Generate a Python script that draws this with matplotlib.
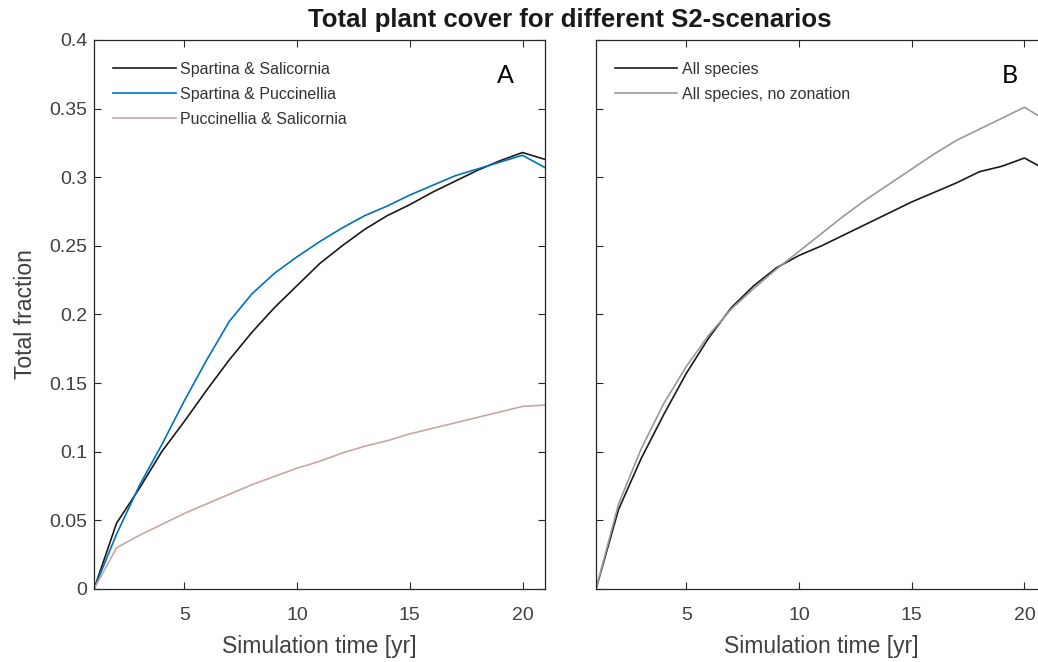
import matplotlib.pyplot as plt

plt.rcParams['font.family'] = ['Liberation Sans', 'DejaVu Sans']

years = list(range(1, 22))

spar_sali = [0, 0.048, 0.073, 0.100, 0.122, 0.145, 0.167, 0.187, 0.205, 0.221, 0.237,
             0.250, 0.262, 0.272, 0.280, 0.289, 0.297, 0.305, 0.312, 0.318, 0.313]
spar_pucc = [0, 0.040, 0.075, 0.105, 0.137, 0.167, 0.195, 0.215, 0.230, 0.242, 0.253,
             0.263, 0.272, 0.279, 0.287, 0.294, 0.301, 0.306, 0.311, 0.316, 0.307]
pucc_sali = [0, 0.030, 0.039, 0.047, 0.055, 0.062, 0.069, 0.076, 0.082, 0.088, 0.093,
             0.099, 0.104, 0.108, 0.113, 0.117, 0.121, 0.125, 0.129, 0.133, 0.134]

all_species = [0, 0.058, 0.095, 0.127, 0.157, 0.183, 0.205, 0.221, 0.234, 0.243, 0.250,
               0.258, 0.266, 0.274, 0.282, 0.289, 0.296, 0.304, 0.308, 0.314, 0.305]
no_zonation = [0, 0.062, 0.102, 0.135, 0.162, 0.185, 0.204, 0.219, 0.233, 0.246, 0.259,
               0.272, 0.284, 0.295, 0.306, 0.317, 0.327, 0.335, 0.343, 0.351, 0.341]

x_ticks = [5, 10, 15, 20]
y_ticks = [0, 0.05, 0.1, 0.15, 0.2, 0.25, 0.3, 0.35, 0.4]
y_labels = ['0', '0.05', '0.1', '0.15', '0.2', '0.25', '0.3', '0.35', '0.4']

fig = plt.figure(figsize=(10.38, 6.62), dpi=100)
ax1 = fig.add_axes([0.0906, 0.1103, 0.4345, 0.8293])
ax2 = fig.add_axes([0.5742, 0.1103, 0.4345, 0.8293])

ax1.plot(years, spar_sali, color='#1a1a1a', lw=1.2, label='Spartina & Salicornia')
ax1.plot(years, spar_pucc, color='#0072BD', lw=1.2, label='Spartina & Puccinellia')
ax1.plot(years, pucc_sali, color='#c8a6a6', lw=1.2, label='Puccinellia & Salicornia')

ax2.plot(years, all_species, color='#1a1a1a', lw=1.2, label='All species')
ax2.plot(years, no_zonation, color='#999999', lw=1.2, label='All species, no zonation')

for ax in (ax1, ax2):
    ax.set_xlim(1, 21)
    ax.set_ylim(0, 0.4)
    ax.set_xticks(x_ticks)
    ax.set_yticks(y_ticks)
    ax.tick_params(direction='in', top=True, right=True, length=5, width=0.8,
                   colors='#262626', labelsize=14, labelcolor='#404040')
    ax.tick_params(axis='x', pad=13)
    ax.tick_params(axis='y', pad=5)
    for s in ax.spines.values():
        s.set_color('#262626')
        s.set_linewidth(0.9)
    ax.set_xlabel('Simulation time [yr]', fontsize=16.5, color='#404040', labelpad=8)
    ax.legend(loc='upper left', frameon=False, fontsize=11.5, handlelength=3.9,
              handletextpad=0.3, labelspacing=0.62, borderaxespad=0.8,
              bbox_to_anchor=(0, 0.995), labelcolor='#333333')

ax1.set_yticklabels(y_labels)
ax2.set_yticklabels([])
ax1.set_ylabel('Total fraction', fontsize=16.5, color='#404040', labelpad=9)

ax1.text(0.912, 0.936, 'A', transform=ax1.transAxes, fontsize=18, family='Lato',
         ha='center', va='center', color='black')
ax2.text(0.918, 0.936, 'B', transform=ax2.transAxes, fontsize=18, family='Lato',
         ha='center', va='center', color='black')

fig.text(0.549, 0.97, 'Total plant cover for different S2-scenarios',
         ha='center', va='center', fontsize=18.5, fontweight='bold', color='#1a1a1a')

fig.savefig('out.png', dpi=100)
